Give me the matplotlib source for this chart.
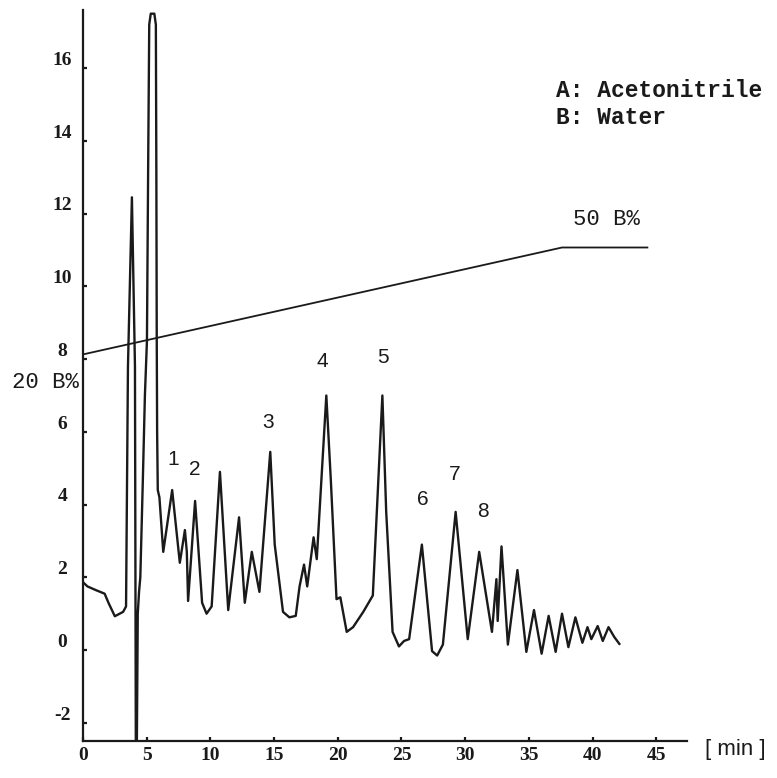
"""HPLC chromatogram with acetonitrile/water gradient overlay."""

import matplotlib

matplotlib.use("Agg")
import matplotlib.pyplot as plt
import matplotlib.transforms as mtransforms

plt.rcParams["axes.unicode_minus"] = False

# detector trace: retention time [min] vs signal
trace_time = [
    0.05, 0.35, 1.0, 1.7, 2.0, 2.5, 3.15, 3.38, 3.53, 3.84, 4.08, 4.15, 4.22, 4.3, 4.4,
    4.5, 4.7, 4.86, 5.02, 5.12, 5.2, 5.32, 5.6, 5.72, 5.76, 5.79, 5.82, 5.87, 6.0,
    6.3, 7.0, 7.6, 8.0, 8.15, 8.25, 8.8, 9.35, 9.7, 10.1, 10.75, 11.4, 12.25, 12.7,
    13.25, 13.85, 14.7, 15.05, 15.7, 16.2, 16.7, 17.0, 17.35, 17.6, 18.1, 18.35,
    19.1, 19.45, 19.9, 20.2, 20.7, 21.2, 22.0, 22.75, 23.5, 23.8, 24.3, 24.8, 25.2,
    25.6, 26.6, 27.4, 27.8, 28.25, 29.25, 30.2, 31.1, 32.1, 32.45, 32.55, 32.85,
    33.35, 34.1, 34.8, 35.4, 36.0, 36.55, 37.1, 37.6, 38.1, 38.65, 39.2, 39.6, 39.9,
    40.4, 40.8, 41.25, 41.7, 42.1,
]
trace_signal = [
    1.85, 1.75, 1.65, 1.55, 1.3, 0.93, 1.05, 1.2, 7.8, 12.45, 7.8, -3.0, -3.0, 1.0, 1.6,
    2.0, 4.7, 7.0, 8.5, 13.5, 17.2, 17.5, 17.5, 17.2, 13.0, 8.5, 6.0, 4.4, 4.2,
    2.7, 4.4, 2.4, 3.3, 2.7, 1.35, 4.1, 1.3, 1.0, 1.2, 4.9, 1.1, 3.65, 1.3,
    2.7, 1.6, 5.45, 2.9, 1.05, 0.9, 0.94, 1.75, 2.35, 1.75, 3.1, 2.5,
    7.0, 4.7, 1.4, 1.45, 0.5, 0.63, 1.05, 1.5, 7.0, 3.8, 0.5, 0.1, 0.25,
    0.3, 2.9, -0.03, -0.15, 0.15, 3.8, 0.3, 2.7, 0.5, 1.95, 0.8, 2.85,
    0.15, 2.2, -0.05, 1.1, -0.1, 0.94, -0.05, 1.0, 0.08, 0.9, 0.2, 0.63, 0.3,
    0.66, 0.25, 0.63, 0.36, 0.17,
]

# gradient program drawn on the signal scale (20 %B -> 50 %B)
gradient_time = [0.0, 37.6, 44.3]
gradient_level = [8.13, 11.07, 11.07]

# numbered peaks and where their labels sit
peak_names = ["1", "2", "3", "4", "5", "6", "7", "8"]
peak_label_time = [7.06, 8.78, 14.51, 18.82, 23.53, 26.67, 29.18, 31.37]
peak_label_signal = [5.25, 4.97, 6.26, 7.94, 8.05, 4.15, 4.84, 3.82]

x_ticks = [0, 5, 10, 15, 20, 25, 30, 35, 40, 45]
y_ticks = [-2, 0, 2, 4, 6, 8, 10, 12, 14, 16]

ink = "#1a1a1a"

fig = plt.figure(figsize=(7.77, 7.78), dpi=100)
ax = fig.add_axes([0.1068, 0.0476, 0.7772, 0.9395])

ax.plot(trace_time, trace_signal, color=ink, lw=1.7, solid_joinstyle="round")
ax.plot(gradient_time, gradient_level, color=ink, lw=1.3)

for name, t, s in zip(peak_names, peak_label_time, peak_label_signal):
    ax.text(t, s, name, ha="center", va="center", fontsize=15,
            family="Liberation Sans", color=ink)

mono = dict(family="Liberation Mono", color=ink, va="center")
ax.text(37.1, 15.38, "A: Acetonitrile", fontsize=16.5, weight="bold", **mono)
ax.text(37.1, 14.64, "B: Water", fontsize=16.5, weight="bold", **mono)
ax.text(38.5, 11.84, "50 B%", fontsize=16, **mono)
fig.text(0.015, 0.508, "20 B%", fontsize=16, **mono)
fig.text(0.907, 0.036, "[ min ]", fontsize=16, family="Liberation Sans",
         color=ink, va="center")

ax.set_xlim(0, 47.4)
ax.set_ylim(-2.5, 17.6)
ax.set_xticks(x_ticks)
ax.set_yticks(y_ticks)
for side in ("top", "right"):
    ax.spines[side].set_visible(False)
for side in ("left", "bottom"):
    ax.spines[side].set_linewidth(1.6)
    ax.spines[side].set_color(ink)

ax.tick_params(direction="in", length=3, width=1.6, color=ink, labelcolor=ink)
ax.tick_params(axis="x", pad=4)
ax.tick_params(axis="y", pad=15)
for label in ax.get_xticklabels() + ax.get_yticklabels():
    label.set_fontfamily("Liberation Serif")
    label.set_fontweight("bold")
    label.set_fontsize(14)
lift = mtransforms.ScaledTranslation(0, 7 / 72, fig.dpi_scale_trans)
for label in ax.get_yticklabels():
    label.set_horizontalalignment("center")
    label.set_transform(label.get_transform() + lift)

fig.savefig("out.png", dpi=100)
